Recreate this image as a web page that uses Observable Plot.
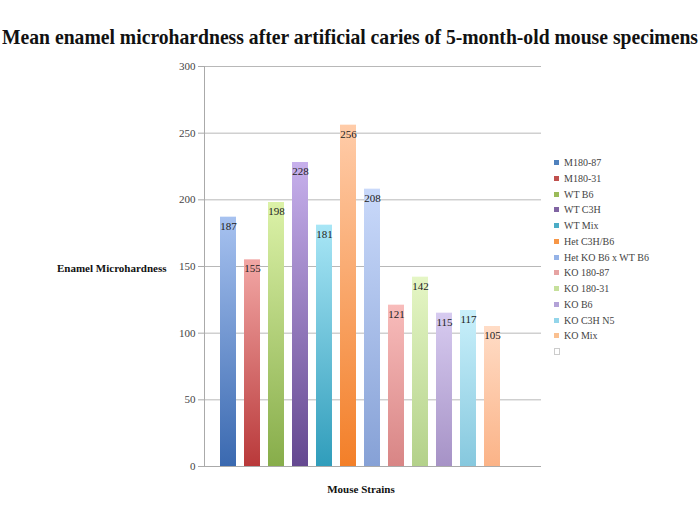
<!DOCTYPE html>
<html>
<head>
<meta charset="utf-8">
<script src="https://cdn.jsdelivr.net/npm/d3@7"></script>
<script src="https://cdn.jsdelivr.net/npm/@observablehq/plot@0.6"></script>
<style>
  html, body { margin: 0; padding: 0; background: #fff; }
  #page { position: relative; width: 700px; height: 518px; overflow: hidden; background: #fff; }
  #title { position: absolute; left: 2px; top: 25px; white-space: nowrap;
           font-family: "Liberation Serif", serif; font-weight: bold; font-size: 21px; line-height: 24px; color: #111; }
  #title span { display: inline-block; transform-origin: left center; }
  #chart { position: absolute; left: 0; top: 55px; }
  #legend { position: absolute; left: 554px; top: 155px; font-family: "Liberation Serif", serif; font-size: 10px; color: #444; }
  .row { height: 15.75px; line-height: 15.75px; white-space: nowrap; }
  .sw { display: inline-block; width: 5px; height: 5px; margin-right: 5px; vertical-align: middle; position: relative; top: -1px; }
</style>
</head>
<body>
<div id="page">
  <div id="title"><span>Mean enamel microhardness after artificial caries of 5-month-old mouse specimens</span></div>
  <div id="chart"></div>
  <div id="legend"></div>
</div>
<script>
const strains = ["M180-87", "M180-31", "WT B6", "WT C3H", "WT Mix", "Het C3H/B6", "Het KO B6 x WT B6",
                 "KO 180-87", "KO 180-31", "KO B6", "KO C3H N5", "KO Mix", " "];
const values = [187, 155, 198, 228, 181, 256, 208, 121, 142, 115, 117, 105, 0];
const yTicks = [0, 50, 100, 150, 200, 250, 300];
const topColors = ["#a7c2f0", "#f2a7a5", "#dcf2a8", "#c7b0ec", "#a8e6f6", "#ffcca9", "#c9d9fa",
                   "#f8bcbb", "#e5f6c5", "#d7cbf0", "#c9f0fb", "#ffdcc6", "#ffffff"];
const bottomColors = ["#3a69b0", "#b9393a", "#87ad4a", "#644890", "#309dbb", "#f37f28", "#86a1d6",
                      "#d88585", "#b3d18a", "#a692c6", "#86c8de", "#fbb387", "#ffffff"];
const legendColors = ["#4f81bd", "#c0504d", "#9bbb59", "#8064a2", "#4bacc6", "#f79646", "#95b3e7",
                      "#e6a3a2", "#c6e09b", "#b3a2d7", "#93d5ea", "#fac090", "#ffffff"];

const data = strains.map((s, i) => ({strain: s, value: values[i]}));
const gradIds = strains.map((_, i) => `url(#grad${i})`);

const defsMark = () => {
  const defs = d3.create("svg:defs");
  strains.forEach((_, i) => {
    const g = defs.append("linearGradient").attr("id", `grad${i}`)
      .attr("x1", 0).attr("y1", 0).attr("x2", 0).attr("y2", 1);
    g.append("stop").attr("offset", "0%").attr("stop-color", topColors[i]);
    g.append("stop").attr("offset", "100%").attr("stop-color", bottomColors[i]);
  });
  return defs.node();
};

const leftLine = (index, scales, values, dims) => {
  const g = d3.create("svg:line")
    .attr("x1", dims.marginLeft + 0.5).attr("x2", dims.marginLeft + 0.5)
    .attr("y1", dims.marginTop).attr("y2", dims.height - dims.marginBottom)
    .attr("stroke", "#aaa");
  return g.node();
};

const chart = Plot.plot({
  width: 700,
  height: 463,
  marginTop: 11,
  marginBottom: 52,
  marginLeft: 204,
  marginRight: 159,
  x: {domain: strains, padding: 0.35, insetLeft: 4.4, insetRight: 6.2, axis: null},
  y: {domain: [0, 300]},
  color: {domain: strains, range: gradIds},
  style: {fontFamily: "Liberation Serif, serif", fontSize: "11px", color: "#333", background: "white"},
  marks: [
    defsMark,
    Plot.gridY(yTicks, {stroke: "#b8b8b8", strokeOpacity: 1}),
    Plot.axisY(yTicks, {tickSize: 6, tickPadding: 3, label: null, stroke: "#aaa", fill: "#444"}),
    leftLine,
    Plot.barY(data, {x: "strain", y: "value", fill: "strain"}),
    Plot.ruleY([0], {stroke: "#aaa"}),
    Plot.text(data, {x: "strain", y: "value", text: d => d.value > 0 ? String(d.value) : "", dy: 9, fill: "#222"}),
    Plot.text(["Enamel Microhardness"], {text: d => d, frameAnchor: "left", textAnchor: "end", dx: -38, dy: 2, fontWeight: "bold", fill: "#111"}),
    Plot.text(["Mouse Strains"], {text: d => d, frameAnchor: "bottom", dy: 26, dx: -12, fontWeight: "bold", fill: "#111"})
  ]
});
document.getElementById("chart").appendChild(chart);

const legend = d3.select("#legend");
strains.forEach((s, i) => {
  const row = legend.append("div").attr("class", "row");
  row.append("span").attr("class", "sw")
    .style("background", legendColors[i])
    .style("border", i === strains.length - 1 ? "1px solid #ccc" : "none")
    .style("width", i === strains.length - 1 ? "4px" : "5px")
    .style("height", "5px");
  row.append("span").text(s);
});

// fit title to the page width
const span = document.querySelector("#title span");
const w = span.getBoundingClientRect().width;
span.style.transform = `scaleX(${696 / w})`;
</script>
</body>
</html>
